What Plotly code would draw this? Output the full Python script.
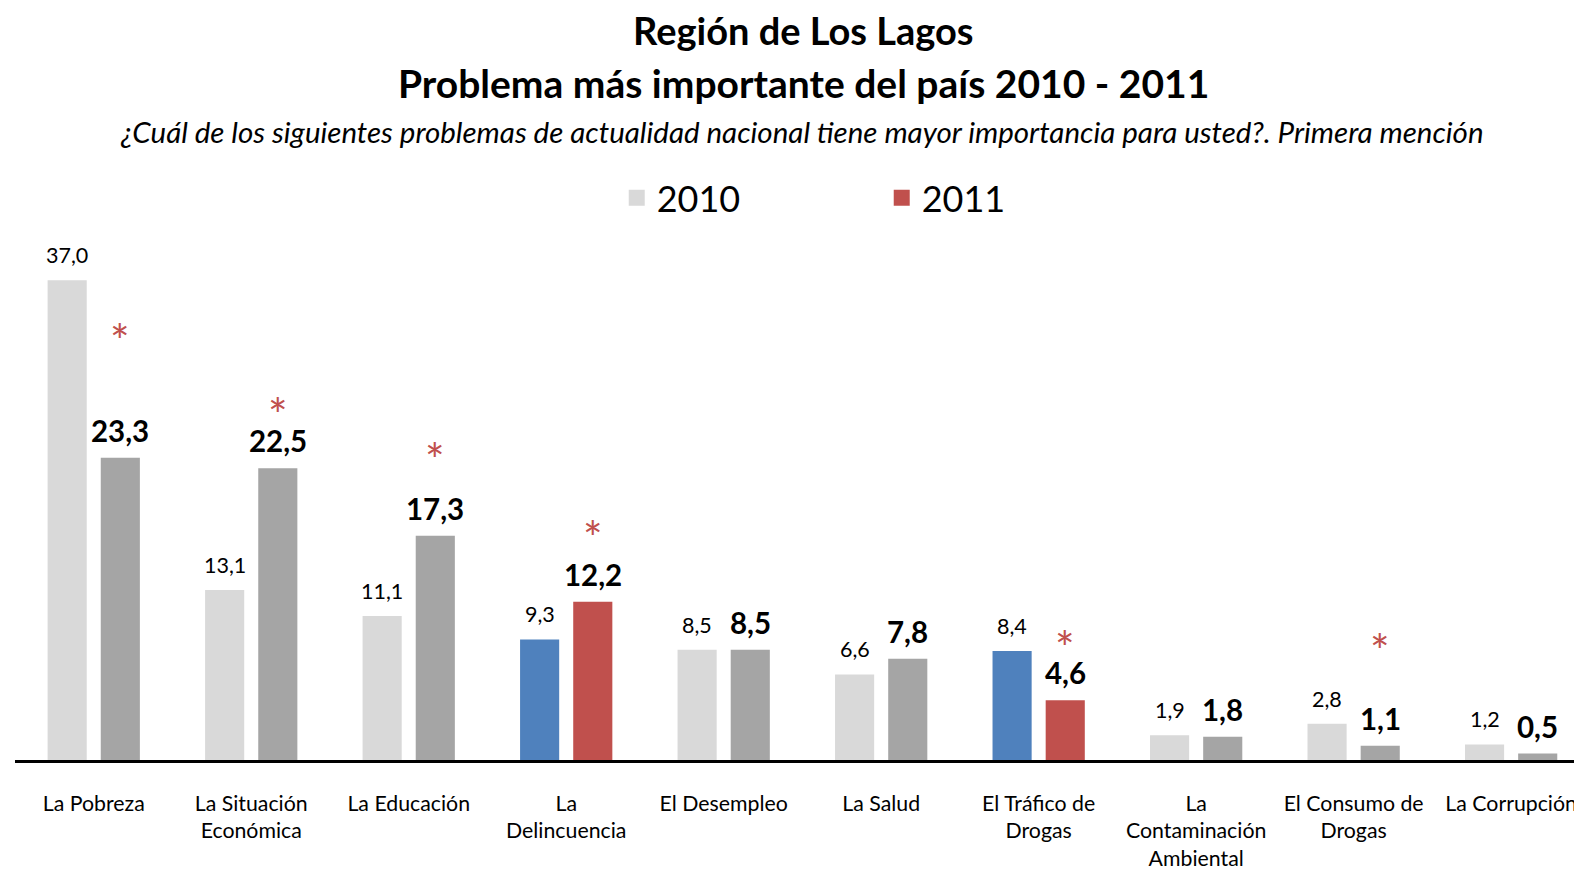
import plotly.graph_objects as go

categorias = ["La Pobreza", "La Situación<br>Económica", "La Educación", "La<br>Delincuencia",
              "El Desempleo", "La Salud", "El Tráfico de<br>Drogas", "La<br>Contaminación<br>Ambiental",
              "El Consumo de<br>Drogas", "La Corrupción"]
valores_2010 = [37.0, 13.1, 11.1, 9.3, 8.5, 6.6, 8.4, 1.9, 2.8, 1.2]
valores_2011 = [23.3, 22.5, 17.3, 12.2, 8.5, 7.8, 4.6, 1.8, 1.1, 0.5]
# categorias destacadas (azul / rojo) y diferencias significativas (*)
destacadas = [False, False, False, True, False, False, True, False, False, False]
significativas = [True, True, True, True, False, False, True, False, True, False]
altura_asterisco = [33.3, 27.6, 24.1, 18.1, 0, 0, 9.6, 0, 9.4, 0]

GRIS_CLARO = "#D9D9D9"
GRIS = "#A5A5A5"
AZUL = "#4F81BD"
ROJO = "#C0504D"
FUENTE = "Lato"

colores_2010 = [AZUL if d else GRIS_CLARO for d in destacadas]
colores_2011 = [ROJO if d else GRIS for d in destacadas]

fig = go.Figure()

fig.add_trace(go.Bar(x=categorias, y=valores_2010, name="2010",
                     marker=dict(color=colores_2010, line=dict(width=0)), showlegend=False))
fig.add_trace(go.Bar(x=categorias, y=valores_2011, name="2011",
                     marker=dict(color=colores_2011, line=dict(width=0)), showlegend=False))

# entradas de leyenda
for nombre, color in [("2010", GRIS_CLARO), ("2011", ROJO)]:
    fig.add_trace(go.Scatter(x=[None], y=[None], mode="markers", name=nombre,
                             marker=dict(symbol="square", size=18, color=color)))

desp = 26.6
anotaciones = []
for cat, v10, v11, sig, ya in zip(categorias, valores_2010, valores_2011, significativas, altura_asterisco):
    anotaciones.append(dict(x=cat, y=v10, xshift=-desp, yanchor="bottom", yshift=10,
                            text=f"{v10:.1f}".replace(".", ","), showarrow=False,
                            font=dict(family=FUENTE, size=21.5, color="black")))
    anotaciones.append(dict(x=cat, y=v11, xshift=desp, yanchor="bottom", yshift=8,
                            text=f"<b>{v11:.1f}</b>".replace(".", ","), showarrow=False,
                            font=dict(family=FUENTE, size=29.5, color="black")))
    if sig:
        anotaciones.append(dict(x=cat, y=ya, xshift=desp, yanchor="middle", yshift=-12,
                                text="*", showarrow=False,
                                font=dict(family=FUENTE, size=46, color=ROJO)))

anotaciones += [
    dict(x=0.503, y=1.0, xref="paper", yref="paper", yanchor="middle", yshift=210,
         text="<b>Región de Los Lagos</b>", showarrow=False,
         font=dict(family=FUENTE, size=38, color="black")),
    dict(x=0.503, y=1.0, xref="paper", yref="paper", yanchor="middle", yshift=157,
         text="<b>Problema más importante del país 2010 - 2011</b>", showarrow=False,
         font=dict(family=FUENTE, size=39, color="black")),
    dict(x=0.502, y=1.0, xref="paper", yref="paper", yanchor="middle", yshift=109,
         text="<i>¿Cuál de los siguientes problemas de actualidad nacional tiene mayor importancia para usted?. Primera mención</i>",
         showarrow=False, font=dict(family=FUENTE, size=29.5, color="black")),
]

fig.update_layout(
    width=1574, height=864,
    margin=dict(l=7, r=0, t=232, b=112),
    plot_bgcolor="white", paper_bgcolor="white",
    barmode="group", bargap=0.325, bargroupgap=0.264,
    separators=",.",
    font=dict(family=FUENTE, color="black"),
    showlegend=True,
    legend=dict(orientation="h", x=0.384, xanchor="left", y=1.081, yanchor="middle",
                entrywidth=220, entrywidthmode="pixels",
                font=dict(family=FUENTE, size=36, color="black")),
    xaxis=dict(showline=True, linecolor="black", linewidth=3, ticks="",
               range=[-0.5, 9.45],
               tickfont=dict(family=FUENTE, size=21.3, color="black"),
               ticklabelstandoff=22, showgrid=False, fixedrange=True),
    yaxis=dict(visible=False, range=[0, 40.1], showgrid=False, zeroline=False),
    annotations=anotaciones,
)

fig.write_html("out.html")
